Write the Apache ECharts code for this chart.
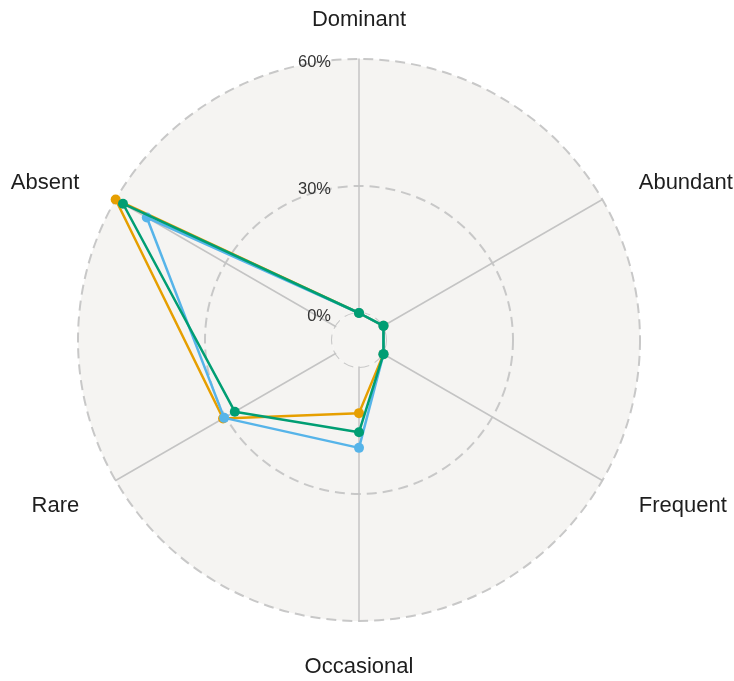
<!DOCTYPE html>
<html>
<head>
<meta charset="utf-8">
<script src="https://cdn.jsdelivr.net/npm/echarts@6/dist/echarts.min.js"></script>
<style>
  html, body { margin: 0; padding: 0; background: #fff; }
  #chart { width: 734px; height: 681px; }
</style>
</head>
<body>
<div id="chart"></div>
<script>
// categories, listed counter-clockwise from the top (radar draws that way)
var categories = ['Dominant', 'Absent', 'Rare', 'Occasional', 'Frequent', 'Abundant'];
var tickMax = 60;
var seriesNames = ['Group A', 'Group B', 'Group C'];
var colors = ['#E69F00', '#56B4E9', '#009E73'];
// percent values in the same order as categories
var valuesA = [0, 60, 30.7, 10.9, 0.3, 0.3];
var valuesB = [0, 51.5, 30.4, 19.1, 0.3, 0.3];
var valuesC = [0, 58, 27.5, 15.4, 0.3, 0.3];

var FONT = 'Liberation Sans, Arial, sans-serif';
var BG = '#f5f4f2';

var myChart = echarts.init(document.getElementById('chart'));

// name gap per position: top / bottom labels sit closer than the side ones
var gaps = { Dominant: 28, Occasional: 35 };

var indicators = categories.map(function (name, i) {
    var ind = { name: name, min: 0, max: tickMax, nameGap: gaps[name] || 42 };
    if (i === 0) {
        ind.axisLabel = {
            show: true,
            margin: 28,
            // a small empty first line nudges the label a bit below its tick
            formatter: function (v) { return '{s| }\n{t|' + v + '%}'; },
            rich: {
                s: { fontSize: 7, lineHeight: 7 },
                t: { fontSize: 16.5, color: '#333', fontFamily: FONT }
            }
        };
    }
    return ind;
});

var allValues = [valuesA, valuesB, valuesC];
var series = allValues.map(function (vals, i) {
    return {
        type: 'radar',
        radarIndex: 0,
        name: seriesNames[i],
        symbol: 'circle',
        symbolSize: 10,
        lineStyle: { color: colors[i], width: 2.5 },
        itemStyle: { color: colors[i] },
        z: 2 + i,
        data: [{ value: vals, name: seriesNames[i] }]
    };
});

var option = {
    animation: false,
    radar: [
        {
            center: [359, 340],
            radius: [27, 281],
            startAngle: 90,
            splitNumber: 2,
            shape: 'circle',
            indicator: indicators,
            axisName: {
                formatter: function (name) {
                    if (gaps[name]) return '{n|' + name + '}';
                    return '{g| }\n{n|' + name + '}';
                },
                rich: {
                    g: { fontSize: 9, lineHeight: 9 },
                    n: { color: '#1e1e1e', fontSize: 22, fontFamily: FONT }
                }
            },
            axisLine: { lineStyle: { color: '#c4c4c4', width: 1.5 } },
            axisLabel: { show: false },
            splitLine: {
                lineStyle: { color: '#c8c8c8', width: 2, type: [10, 6] }
            },
            splitArea: { areaStyle: { color: [BG] } }
        },
        {
            // fills the small hole in the middle with the same background
            z: 0,
            center: [359, 340],
            radius: 27,
            splitNumber: 1,
            shape: 'circle',
            indicator: categories.map(function (name) { return { name: name, max: tickMax }; }),
            axisName: { show: false },
            axisLine: { show: false },
            axisLabel: { show: false },
            splitLine: { show: false },
            splitArea: { areaStyle: { color: [BG] } }
        }
    ],
    series: series
};

myChart.setOption(option);
</script>
</body>
</html>
